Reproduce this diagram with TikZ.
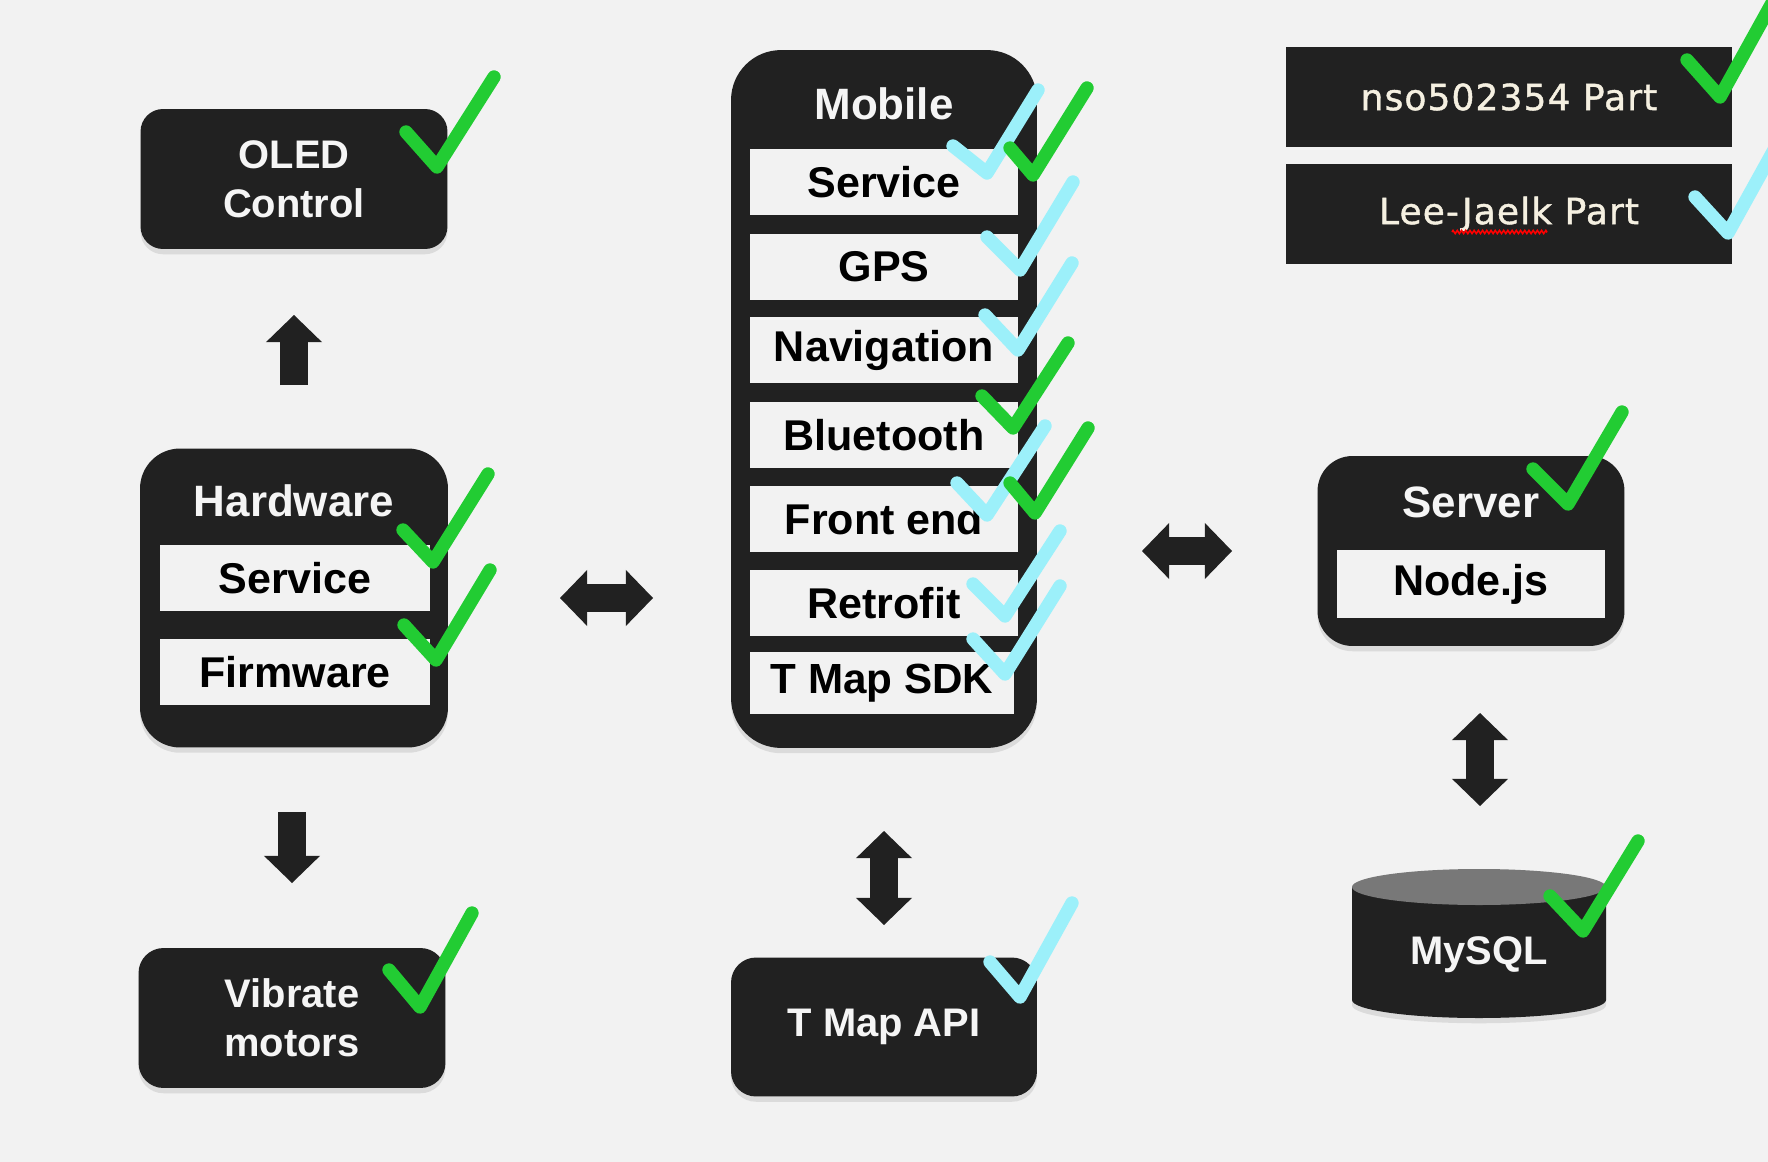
\documentclass[tikz,border=0pt]{standalone}
\usepackage{fontspec}
\setmainfont{Liberation Sans}
\newfontfamily\partfont[LetterSpace=3,FakeBold=1.2]{DejaVu Sans}
\usetikzlibrary{arrows.meta,shadows,decorations.pathmorphing}
\definecolor{canvasbg}{RGB}{242,242,242}
\definecolor{boxdark}{RGB}{33,33,33}
\definecolor{itembg}{RGB}{242,242,242}
\definecolor{titlewhite}{RGB}{245,245,245}
\definecolor{donegreen}{RGB}{34,204,51}
\definecolor{donecyan}{RGB}{156,240,250}
\definecolor{dbtop}{RGB}{120,120,120}
\definecolor{partcream}{RGB}{245,240,225}

\begin{document}
\begin{tikzpicture}[
    x=0.02cm, y=-0.02cm,
    block/.style={fill=boxdark, inner sep=0pt, drop shadow={opacity=0.2, shadow xshift=0pt, shadow yshift=-3pt}},
    simplebox/.style={block, rounded corners=0.45cm, minimum width=6.14cm, minimum height=2.8cm,
        text=titlewhite, align=center, font=\bfseries\fontsize{22.7}{28}\selectfont},
    title/.style={text=titlewhite, inner sep=0pt, font=\bfseries\fontsize{25}{30}\selectfont},
    item/.style={fill=itembg, inner sep=0pt, minimum width=5.36cm, minimum height=1.34cm,
        font=\bfseries\fontsize{24.5}{30}\selectfont},
    partbox/.style={fill=boxdark, inner sep=0pt, minimum width=8.92cm, minimum height=2.02cm,
        text=partcream, font=\partfont\fontsize{20.5}{24}\selectfont},
    blockarrow/.style={draw=boxdark, line width=16pt},
    tip/.tip={Triangle[length=15.5pt, width=32pt, line width=0pt]},
    tick/.style={line width=7.6pt, line cap=round, line join=round}
]

% Background
\fill[canvasbg] (0,0) rectangle (1768,1162);
\clip (0,0) rectangle (1768,1162);

% === Left column: hardware ===
\node[simplebox] (oled) at (294,179) {OLED\\Control};
\node[block, rounded corners=0.8cm, minimum width=6.16cm, minimum height=5.98cm] (hw) at (294,598) {};
\node[title] (hwtitle) at (294,501) {Hardware};
\node[item, minimum width=5.4cm, minimum height=1.32cm] (hwsvc) at (295,578) {Service};
\node[item, minimum width=5.4cm, minimum height=1.32cm] (hwfw) at (295,672) {Firmware};
\node[simplebox, rounded corners=0.5cm] (vib) at (292,1018) {Vibrate\\motors};

% === Middle column: mobile ===
\node[block, rounded corners=1cm, minimum width=6.12cm, minimum height=13.96cm] (mob) at (884,399) {};
\node[title] (mobtitle) at (884,104) {Mobile};
\node[item] (msvc) at (884,182) {Service};
\node[item] (mgps) at (884,267) {GPS};
\node[item] (mnav) at (884,350) {Navigation};
\node[item] (mbt) at (884,435) {Bluetooth};
\node[item] (mfront) at (884,519) {Front end};
\node[item] (mretro) at (884,603) {Retrofit};
\node[item, minimum width=5.28cm, minimum height=1.24cm, font=\bfseries\fontsize{24}{30}\selectfont] (msdk) at (882,683) {T Map SDK};
\node[simplebox, rounded corners=0.5cm, minimum width=6.12cm, minimum height=2.78cm] (tmapapi) at (884,1027) {T Map API};

% === Right column: server ===
\node[block, rounded corners=0.7cm, minimum width=6.14cm, minimum height=3.8cm] (srv) at (1471,551) {};
\node[title] (srvtitle) at (1471,502) {Server};
\node[item, minimum width=5.38cm, minimum height=1.36cm] (nodejs) at (1471,584) {Node.js};

% MySQL cylinder
\fill[boxdark, drop shadow={opacity=0.2, shadow xshift=0pt, shadow yshift=-3pt}]
    (1352,887) -- (1352,1000) arc[start angle=180, end angle=0, x radius=127, y radius=18] -- (1606,887) -- cycle;
\fill[dbtop] (1479,887) ellipse[x radius=127, y radius=18];
\node[title, font=\bfseries\fontsize{22.7}{28}\selectfont] (mysql) at (1479,955) {MySQL};

% Legend
\node[partbox] (partA) at (1509,97) {nso502354 Part};
\node[partbox, minimum height=2cm] (partB) at (1509,214) {Lee-Jaelk Part};
\draw[red, line width=0.9pt, decorate, decoration={zigzag, segment length=2.4pt, amplitude=0.9pt}]
    (1452,232) -- (1547,232);

% Block arrows
\draw[blockarrow, -tip] (oled.south |- 0,385) -- (oled.south |- 0,315);
\draw[blockarrow, -tip] (vib.north |- 0,812) -- (vib.north |- 0,883);
\draw[blockarrow, tip-tip] (hw.east -| 560,0) -- (hw.east -| 653,0);
\draw[blockarrow, tip-tip] (srv.west -| 1142,0) -- (srv.west -| 1232,0);
\draw[blockarrow, tip-tip] (tmapapi.north |- 0,831) -- (tmapapi.north |- 0,925);
\draw[blockarrow, tip-tip] (1480,713) -- (1480,806);

% Check marks: cyan
\draw[tick, donecyan] (953,146) -- (987,173) -- (1038,90);
\draw[tick, donecyan] (987,237) -- (1020,270) -- (1073,182);
\draw[tick, donecyan] (985,315) -- (1018,350) -- (1072,263);
\draw[tick, donecyan] (957,483) -- (987,515) -- (1045,426);
\draw[tick, donecyan] (973,584) -- (1005,616) -- (1060,531);
\draw[tick, donecyan] (973,639) -- (1005,674) -- (1060,586);
\draw[tick, donecyan] (990,962) -- (1020,997) -- (1072,903);
\draw[tick, donecyan] (1695,197) -- (1728,233) -- (1785,130);

% Check marks: green
\draw[tick, donegreen] (406,132) -- (437,167) -- (494,77);
\draw[tick, donegreen] (403,530) -- (433,562) -- (488,474);
\draw[tick, donegreen] (404,625) -- (436,660) -- (490,570);
\draw[tick, donegreen] (389,970) -- (420,1007) -- (472,913);
\draw[tick, donegreen] (1010,148) -- (1033,175) -- (1087,88);
\draw[tick, donegreen] (982,396) -- (1013,428) -- (1068,343);
\draw[tick, donegreen] (1010,483) -- (1035,513) -- (1088,428);
\draw[tick, donegreen] (1533,469) -- (1568,504) -- (1622,412);
\draw[tick, donegreen] (1550,896) -- (1583,931) -- (1638,841);
\draw[tick, donegreen] (1687,60) -- (1720,97) -- (1782,-15);

\end{tikzpicture}
\end{document}
